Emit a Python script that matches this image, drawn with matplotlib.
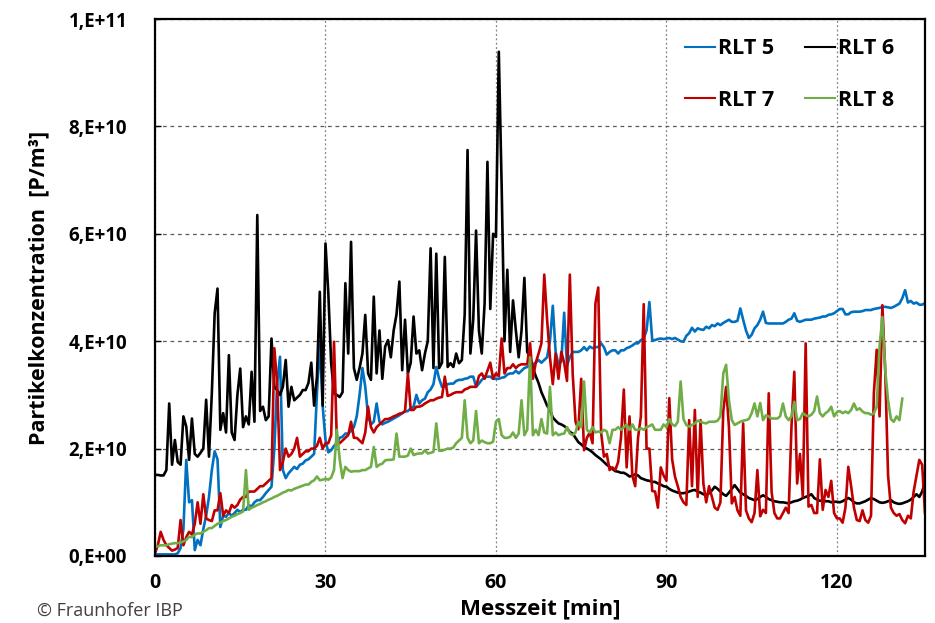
import numpy as np
import matplotlib
matplotlib.use("Agg")
import matplotlib.pyplot as plt
from matplotlib.ticker import FuncFormatter

# Partikelkonzentration in 1E+10 P/m3, Messwerte alle 0,5 min ab t = 0
rlt5 = [
    0.03, 0.03, 0.03, 0.03, 0.03, 0.03, 0.03, 0.03, 0.05, 0.15, 0.5, 1.79, 1.0, 1.04, 0.11, 0.3, 0.2, 0.5, 0.75, 1.1,
    1.6, 1.95, 1.8, 0.54, 0.75, 0.73, 0.8, 0.75, 0.8, 0.86, 0.82, 0.86, 0.86, 0.95, 0.92, 1.0, 1.04, 1.04, 1.1, 1.17,
    1.23, 1.29, 2.0, 3.22, 3.71, 1.6, 1.45, 1.54, 1.6, 1.66, 1.62, 1.7, 1.72, 1.78, 1.8, 1.85, 1.9, 3.03, 4.0, 2.8,
    2.16, 1.93, 1.97, 2.05, 2.1, 2.2, 2.22, 2.28, 2.28, 2.33, 2.4, 2.6, 3.0, 3.5, 3.15, 2.6, 2.45, 2.5, 2.84, 2.5,
    2.45, 2.48, 2.5, 2.53, 2.56, 2.59, 2.62, 2.66, 2.69, 2.7, 2.75, 2.78, 3.0, 2.84, 2.9, 2.93, 3.05, 3.1, 3.2, 3.52,
    3.3, 3.15, 3.15, 3.2, 3.21, 3.21, 3.26, 3.28, 3.28, 3.3, 3.31, 3.34, 3.34, 3.15, 3.21, 3.28, 3.33, 3.34, 3.34, 3.3,
    3.3, 3.3, 3.32, 3.33, 3.38, 3.4, 3.4, 3.45, 3.4, 3.45, 3.5, 3.52, 3.55, 3.57, 3.6, 3.65, 3.6, 3.65, 3.7, 4.0,
    4.66, 3.8, 3.57, 3.62, 4.53, 3.55, 3.7, 3.8, 3.8, 3.8, 3.83, 3.89, 3.83, 3.9, 3.87, 3.89, 3.89, 3.96, 3.89, 3.75,
    3.8, 3.83, 3.83, 3.77, 3.83, 3.83, 3.87, 3.89, 3.92, 3.96, 3.96, 4.02, 4.05, 4.2, 4.73, 4.02, 4.02, 4.04, 4.05, 4.04,
    4.05, 4.06, 4.04, 4.06, 4.03, 4.0, 3.99, 4.1, 4.15, 4.25, 4.18, 4.24, 4.22, 4.21, 4.27, 4.24, 4.3, 4.28, 4.33, 4.3,
    4.34, 4.37, 4.4, 4.36, 4.36, 4.38, 4.61, 4.4, 4.2, 4.06, 4.12, 4.24, 4.3, 4.4, 4.55, 4.34, 4.33, 4.33, 4.33, 4.33,
    4.33, 4.33, 4.36, 4.4, 4.42, 4.52, 4.38, 4.36, 4.38, 4.4, 4.4, 4.4, 4.42, 4.43, 4.44, 4.46, 4.46, 4.49, 4.5, 4.52,
    4.56, 4.6, 4.6, 4.5, 4.5, 4.54, 4.55, 4.55, 4.55, 4.56, 4.58, 4.58, 4.58, 4.6, 4.61, 4.62, 4.64, 4.64, 4.63, 4.62,
    4.64, 4.67, 4.7, 4.8, 4.95, 4.72, 4.75, 4.7, 4.72, 4.68, 4.68, 4.71,
]

rlt6 = [
    1.51, 1.51, 1.5, 1.5, 1.6, 2.84, 1.7, 2.16, 1.75, 1.7, 2.6, 2.41, 1.79, 2.56, 1.9, 1.85, 1.92, 2.0, 2.91, 1.85,
    3.03, 4.52, 4.98, 2.35, 2.66, 2.3, 3.74, 2.3, 2.16, 3.0, 3.49, 2.4, 2.6, 2.45, 3.43, 2.5, 6.35, 2.7, 2.78, 2.53,
    2.6, 4.05, 3.15, 3.09, 3.0, 3.15, 3.65, 2.78, 3.15, 2.9, 2.95, 3.0, 3.09, 3.09, 3.22, 3.6, 2.8, 3.34, 4.92, 2.8,
    5.82, 4.89, 3.59, 3.03, 3.0, 2.96, 3.05, 5.08, 3.77, 5.85, 3.5, 3.28, 3.5, 3.77, 4.49, 3.4, 3.28, 4.83, 3.4, 4.2,
    3.3, 3.9, 4.02, 3.7, 4.2, 4.5, 5.11, 3.46, 4.4, 3.4, 3.6, 4.46, 3.77, 3.83, 3.46, 3.77, 4.0, 5.73, 3.5, 5.63,
    3.5, 3.6, 5.57, 3.52, 3.59, 3.52, 3.77, 3.59, 3.65, 4.5, 7.56, 3.77, 4.4, 6.06, 4.2, 3.77, 4.7, 7.34, 4.6, 6.0,
    5.94, 9.39, 6.9, 4.0, 5.33, 3.8, 4.76, 4.2, 3.7, 4.2, 5.18, 3.8, 3.7, 3.5, 3.35, 3.22, 3.05, 2.93, 2.8, 2.72,
    2.58, 2.52, 2.47, 2.45, 2.42, 2.38, 2.31, 2.28, 2.2, 2.12, 2.08, 2.03, 2.0, 1.97, 1.93, 1.88, 1.84, 1.8, 1.75, 1.7,
    1.66, 1.62, 1.58, 1.57, 1.55, 1.55, 1.52, 1.48, 1.5, 1.52, 1.5, 1.45, 1.43, 1.41, 1.4, 1.38, 1.38, 1.35, 1.33, 1.3,
    1.29, 1.25, 1.22, 1.2, 1.18, 1.17, 1.17, 1.18, 1.2, 1.22, 1.23, 1.2, 1.18, 1.15, 1.14, 1.17, 1.22, 1.29, 1.25, 1.2,
    1.15, 1.12, 1.18, 1.25, 1.32, 1.25, 1.18, 1.15, 1.12, 1.08, 1.06, 1.04, 1.06, 1.1, 1.13, 1.1, 1.06, 1.04, 1.02, 1.01,
    1.0, 1.0, 0.99, 0.98, 1.0, 1.02, 1.03, 1.05, 1.08, 1.1, 1.12, 1.15, 1.08, 1.05, 1.03, 1.02, 1.02, 1.02, 1.0, 1.01,
    1.01, 1.0, 1.02, 1.05, 1.08, 1.05, 1.0, 0.98, 0.98, 1.0, 1.02, 1.05, 1.08, 1.06, 1.03, 1.0, 0.99, 1.0, 1.02, 1.04,
    1.0, 0.98, 0.97, 0.98, 1.0, 1.02, 1.05, 1.1, 1.15, 1.1, 1.2, 1.38,
]

rlt7 = [
    0.05, 0.2, 0.45, 0.3, 0.2, 0.15, 0.1, 0.12, 0.15, 0.67, 0.2, 0.35, 0.45, 0.4, 0.6, 1.0, 0.6, 1.15, 0.7, 0.67,
    0.65, 0.85, 0.85, 1.17, 0.75, 0.85, 0.8, 0.95, 0.9, 0.95, 1.05, 1.1, 1.1, 1.2, 1.2, 1.2, 1.25, 1.3, 1.3, 1.35,
    1.4, 1.45, 3.87, 3.2, 1.6, 1.75, 2.0, 1.85, 1.9, 2.0, 2.2, 1.85, 1.9, 1.95, 1.95, 2.0, 2.0, 2.05, 2.2, 2.0,
    2.1, 2.1, 2.25, 3.99, 2.15, 2.1, 2.15, 2.2, 2.25, 2.5, 2.2, 2.2, 2.15, 2.1, 2.3, 2.78, 2.4, 2.3, 2.4, 2.45,
    2.5, 2.55, 2.55, 2.57, 2.6, 2.62, 2.65, 2.66, 2.7, 3.4, 2.72, 2.72, 2.78, 2.78, 2.8, 2.84, 2.87, 2.9, 2.9, 2.93,
    2.95, 2.96, 3.34, 2.98, 3.0, 3.03, 3.05, 3.05, 3.05, 3.1, 3.12, 3.15, 3.15, 3.15, 3.35, 3.4, 3.3, 3.45, 3.6, 3.3,
    3.4, 3.35, 4.05, 3.4, 3.5, 3.5, 3.57, 3.5, 3.55, 3.57, 3.57, 3.57, 3.96, 3.3, 3.6, 3.77, 3.96, 5.24, 4.4, 3.7,
    3.2, 3.77, 3.3, 3.8, 3.6, 3.26, 5.24, 3.4, 2.5, 2.36, 3.3, 1.97, 2.2, 2.3, 2.1, 4.7, 5.0, 2.3, 1.85, 1.9,
    1.6, 1.65, 1.6, 1.75, 2.2, 3.1, 1.65, 2.6, 1.5, 1.3, 2.2, 2.6, 4.69, 2.0, 2.0, 1.21, 1.2, 0.9, 1.65, 1.5,
    1.4, 2.94, 1.8, 1.48, 1.3, 1.1, 1.0, 0.95, 2.53, 1.3, 2.72, 1.1, 2.53, 1.35, 1.0, 1.3, 1.1, 0.9, 0.86, 1.0,
    2.7, 3.15, 2.4, 0.98, 1.1, 0.85, 0.75, 2.47, 0.85, 0.7, 0.63, 0.8, 1.6, 0.74, 0.86, 0.8, 3.03, 1.2, 0.8, 0.7,
    0.7, 0.8, 0.9, 0.8, 2.4, 3.43, 1.35, 1.9, 1.1, 3.96, 0.92, 0.95, 0.8, 0.8, 1.8, 0.86, 1.23, 1.1, 1.4, 0.8,
    0.7, 0.7, 0.62, 0.9, 1.66, 1.3, 0.9, 0.67, 0.65, 0.85, 0.67, 0.62, 0.75, 3.03, 3.84, 2.6, 4.67, 3.46, 1.5, 0.9,
    0.8, 0.75, 0.78, 0.67, 0.61, 0.75, 0.7, 1.2, 1.5, 1.79, 1.7, 0.8,
]

rlt8 = [
    0.17, 0.18, 0.2, 0.2, 0.2, 0.22, 0.23, 0.24, 0.24, 0.25, 0.27, 0.3, 0.36, 0.35, 0.4, 0.42, 0.42, 0.45, 0.48, 0.52,
    0.52, 0.56, 0.6, 0.62, 0.65, 0.67, 0.7, 0.73, 0.75, 0.78, 0.8, 0.83, 1.6, 0.86, 0.9, 0.92, 0.95, 0.97, 1.0, 1.02,
    1.05, 1.07, 1.1, 1.12, 1.15, 1.18, 1.2, 1.23, 1.22, 1.25, 1.27, 1.29, 1.31, 1.33, 1.33, 1.38, 1.41, 1.48, 1.41, 1.42,
    1.44, 1.42, 1.46, 1.6, 2.35, 1.8, 1.45, 1.66, 1.6, 1.57, 1.58, 1.58, 1.58, 1.6, 1.6, 1.63, 1.66, 2.03, 1.66, 1.7,
    1.72, 1.78, 1.79, 1.79, 1.8, 2.28, 1.85, 1.85, 1.85, 1.87, 2.0, 1.88, 1.9, 1.91, 1.91, 1.97, 1.91, 1.92, 1.94, 2.47,
    1.96, 1.96, 1.98, 2.0, 2.0, 2.02, 2.1, 2.15, 2.2, 2.9, 2.2, 2.1, 2.15, 2.7, 2.1, 2.15, 2.12, 2.1, 2.1, 2.13,
    2.5, 2.55, 2.25, 2.2, 2.2, 2.22, 2.3, 2.2, 2.28, 2.9, 2.25, 2.35, 3.7, 2.25, 2.35, 2.25, 2.55, 2.3, 2.28, 3.15,
    2.25, 2.3, 2.25, 2.27, 2.28, 2.4, 2.28, 2.25, 2.3, 2.5, 2.4, 3.25, 2.35, 2.3, 2.4, 2.3, 2.32, 2.3, 2.35, 2.32,
    2.1, 2.35, 2.35, 2.4, 2.35, 2.4, 2.45, 2.35, 2.45, 2.35, 2.35, 2.38, 2.35, 2.4, 2.42, 2.45, 2.35, 2.35, 2.35, 2.45,
    2.4, 2.55, 2.45, 2.42, 2.5, 3.25, 2.55, 2.44, 2.41, 2.44, 2.47, 2.52, 2.5, 2.48, 2.47, 2.5, 2.5, 2.5, 2.52, 2.6,
    3.4, 3.56, 2.9, 2.53, 2.44, 2.47, 2.5, 2.52, 2.53, 2.55, 2.66, 2.84, 2.6, 2.85, 2.53, 2.62, 2.6, 2.56, 2.56, 2.56,
    2.6, 2.84, 2.6, 2.53, 2.6, 2.87, 2.53, 2.55, 2.66, 2.62, 2.6, 2.63, 2.7, 2.97, 2.66, 2.6, 2.66, 2.7, 2.78, 2.6,
    2.68, 2.7, 2.66, 2.69, 2.66, 2.72, 2.84, 2.72, 2.75, 2.69, 2.66, 2.66, 2.63, 2.66, 2.78, 3.9, 4.45, 3.46, 2.9, 2.55,
    2.5, 2.6, 2.53, 2.93,
]

labels = ["RLT 5", "RLT 6", "RLT 7", "RLT 8"]
farben = ["#0070C0", "#000000", "#C00000", "#70AD47"]
dt = 0.5  # min

fig = plt.figure(figsize=(9.35, 6.23), dpi=100)
ax = fig.add_axes([155 / 935, 1 - 556 / 623, 770 / 935, 537 / 623])

linien = []
for werte, lab, c in zip([rlt5, rlt6, rlt7, rlt8], labels, farben):
    t = np.arange(len(werte)) * dt
    l, = ax.plot(t, np.array(werte) * 1e10, color=c, lw=1.9, label=lab)
    linien.append(l)

ax.set_xlim(0, 135.5)
ax.set_ylim(0, 1e11)
ax.set_xticks([0, 30, 60, 90, 120])
ax.set_yticks(np.arange(0, 1.01e11, 2e10))


def excel_fmt(v, pos):
    if v == 0:
        return "0,E+00"
    e = int(np.floor(np.log10(v) + 1e-9))
    m = v / 10 ** e
    return f"{m:.0f},E+{e:02d}"


ax.yaxis.set_major_formatter(FuncFormatter(excel_fmt))

ax.grid(axis="y", linestyle=(0, (3, 3)), color="#595959", lw=0.9)
ax.grid(axis="x", linestyle=(0, (1.5, 2)), color="#808080", lw=0.9)
ax.set_axisbelow(True)

for s in ax.spines.values():
    s.set_linewidth(1.6)
    s.set_color("black")

ax.tick_params(axis="y", direction="in", length=4, width=1, pad=20)
ax.tick_params(axis="x", length=0, pad=12)
for lab in ax.get_yticklabels():
    lab.set_family("Open Sans")
    lab.set_fontweight("bold")
    lab.set_fontsize(13.5)
for lab in ax.get_xticklabels():
    lab.set_family("Open Sans")
    lab.set_fontweight("bold")
    lab.set_fontsize(14)

ax.set_xlabel("Messzeit [min]", family="Open Sans",
              fontweight="bold", fontsize=16, labelpad=4)
ax.set_ylabel("Partikelkonzentration  [P/m³]", family="Open Sans",
              fontweight="bold", fontsize=15.5, labelpad=14)

# Legende zeilenweise: RLT 5, RLT 6 / RLT 7, RLT 8
leg = ax.legend([linien[0], linien[2], linien[1], linien[3]],
                [labels[0], labels[2], labels[1], labels[3]],
                ncol=2, loc="upper right", bbox_to_anchor=(0.985, 1.0), frameon=False,
                prop={"family": "Open Sans", "weight": "bold", "size": 15.5},
                handlelength=1.4, handletextpad=0.15, columnspacing=1.4, labelspacing=1.4)
for h in leg.legend_handles:
    h.set_linewidth(1.5)

fig.text(37 / 935, 0.012, "© Fraunhofer IBP", family="Open Sans", fontsize=13,
         color="#404040", va="baseline")

fig.savefig("out.png", dpi=100)
